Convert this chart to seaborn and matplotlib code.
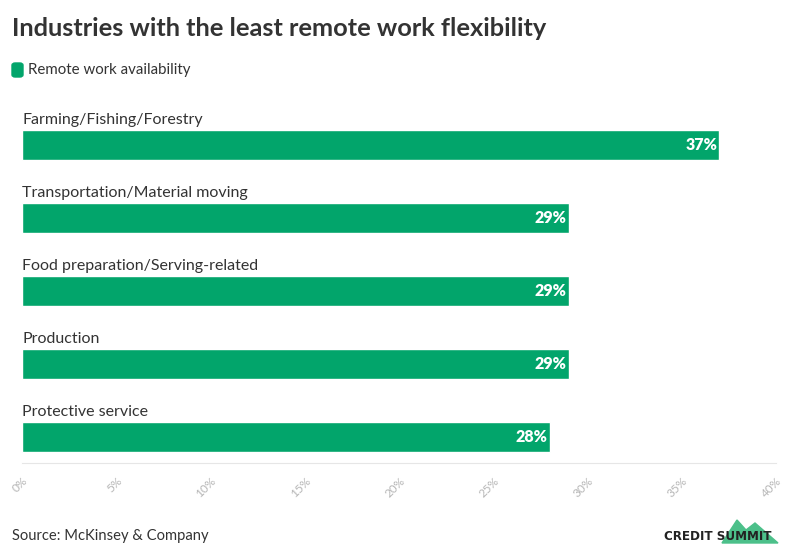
import matplotlib.pyplot as plt
import matplotlib.patches as mpatches
import pandas as pd
import numpy as np
import seaborn as sns

# datos
industrias = ["Farming/Fishing/Forestry", "Transportation/Material moving",
              "Food preparation/Serving-related", "Production", "Protective service"]
remoto = [37, 29, 29, 29, 28]
ticks_x = [0, 5, 10, 15, 20, 25, 30, 35, 40]

df = pd.DataFrame({"industria": industrias, "valor": remoto})

verde = "#02a56b"
sns.set_theme(style="white")
plt.rcParams['font.family'] = ['Lato', 'DejaVu Sans']

fig = plt.figure(figsize=(7.96, 5.48), dpi=100)
ax = fig.add_axes([22/796, 1-463/548, (776-22)/796, (463-101)/548])

sns.barplot(data=df, x="valor", y="industria", orient="h", color=verde,
            width=0.41, saturation=1, ax=ax)

ax.set_xlim(0, 40)
ax.set_ylim(4.356, -0.6)
ax.set_xlabel("")
ax.set_ylabel("")
ax.set_yticks([])
ax.set_xticks(ticks_x)
ax.set_xticklabels([f"{t}%" for t in ticks_x], rotation=45, ha="right",
                   rotation_mode="anchor", color="#b5b5b5", fontsize=8.5)
ax.tick_params(axis="x", length=6, color="#e6e6e6", width=0.8, pad=3)
for s in ["top", "right", "left"]:
    ax.spines[s].set_visible(False)
ax.spines["bottom"].set_color("#e6e6e6")
ax.spines["bottom"].set_linewidth(0.8)

# etiquetas de categoria y valores
for i, (nom, v) in enumerate(zip(industrias, remoto)):
    ax.text(0, i - 0.34, nom, ha="left", va="center", fontsize=11.5, color="#333333")
    ax.text(v - 0.12, i, f"{v}%", ha="right", va="center", fontsize=11.5,
            color="white", fontweight="heavy")

# titulo y leyenda
fig.text(12/796, 1-28/548, "Industries with the least remote work flexibility",
         fontsize=18.3, fontweight="bold", color="#333333", va="center")
fig.patches.append(mpatches.FancyBboxPatch((12/796, 1-77/548), 11/796, 14/548,
                   boxstyle="round,pad=0,rounding_size=0.004", transform=fig.transFigure,
                   color=verde, figure=fig))
fig.text(28/796, 1-70/548, "Remote work availability", fontsize=10.8,
         color="#333333", va="center")

# fuente
fig.text(12/796, 1-536/548, "Source: McKinsey & Company", fontsize=10.6,
         color="#333333", va="center")

# logo
montana = [(722, 543), (737, 520), (746, 530), (755, 523), (778, 543)]
fig.patches.append(mpatches.Polygon([(x/796, 1-y/548) for x, y in montana],
                   closed=True, transform=fig.transFigure, color="#4cc08a",
                   figure=fig, zorder=1))
fig.text(718/796, 1-537/548, "CREDIT SUMMIT", fontsize=9.5, fontweight="bold",
         family=["DejaVu Sans"], stretch="condensed", color="#222222",
         ha="center", va="center", zorder=3)

fig.savefig("out.png", dpi=100)
